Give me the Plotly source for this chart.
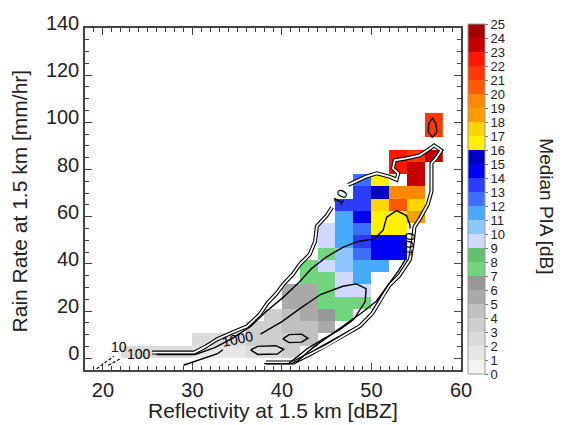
import plotly.graph_objects as go

# ---- binning of the median-PIA field ----
x_edges = [22 + 2 * i for i in range(19)]          # reflectivity bins [dBZ]
y_edges = [round(5.2 * j, 1) for j in range(21)]   # rain-rate bins [mm/hr]

N = None
# median PIA [dB], one row per rain-rate bin (bottom to top), columns 22..56 dBZ
pia_median = [
    [2.5, 2.5, 2.5, 2.5, 1.5, 1.5, 1.5, 2.5, 2.5, 3.5, N, N, N, N, N, N, N, N],
    [N, N, N, N, 2.5, 2.5, 2.5, 3.5, 3.5, 3.5, 4.5, N, N, N, N, N, N, N],
    [N, N, N, N, N, N, N, 3.5, 3.5, 4.5, 4.5, 5.5, N, N, N, N, N, N],
    [N, N, N, N, N, N, N, N, 3.5, 4.5, 5.5, 6.5, 7.5, N, N, N, N, N],
    [N, N, N, N, N, N, N, N, N, 5.5, 5.5, 7.5, 7.5, 7.5, N, N, N, N],
    [N, N, N, N, N, N, N, N, N, 5.5, 5.5, 7.5, 9.5, 9.5, N, N, N, N],
    [N, N, N, N, N, N, N, N, N, N, 7.5, 7.5, 9.5, 11.5, N, N, N, N],
    [N, N, N, N, N, N, N, N, N, N, 7.5, 9.5, 10.5, 11.5, 11.5, N, N, N],
    [N, N, N, N, N, N, N, N, N, N, N, 7.5, 10.5, 12.5, 14.5, 14.5, N, N],
    [N, N, N, N, N, N, N, N, N, N, N, 9.5, 11.5, 13.5, 14.5, 14.5, N, N],
    [N, N, N, N, N, N, N, N, N, N, N, 9.5, 11.5, 12.5, 16.5, 16.5, N, N],
    [N, N, N, N, N, N, N, N, N, N, N, N, 11.5, 14.5, 16.5, 16.5, 18.5, N],
    [N, N, N, N, N, N, N, N, N, N, N, N, 13.5, 13.5, 17.5, 20.5, 17.5, N],
    [N, N, N, N, N, N, N, N, N, N, N, N, N, 13.5, 15.5, 19.5, 19.5, N],
    [N, N, N, N, N, N, N, N, N, N, N, N, N, 12.5, 16.5, N, 23.5, N],
    [N, N, N, N, N, N, N, N, N, N, N, N, N, N, N, 22.5, 23.5, N],
    [N, N, N, N, N, N, N, N, N, N, N, N, N, N, N, 22.5, 21.5, 23.5],
    [N, N, N, N, N, N, N, N, N, N, N, N, N, N, N, N, N, N],
    [N, N, N, N, N, N, N, N, N, N, N, N, N, N, N, N, N, 21.5],
    [N, N, N, N, N, N, N, N, N, N, N, N, N, N, N, N, N, 21.5],
]

# one colour per 1 dB step, 0..25
pia_colors = [
    "#f3f3f3", "#e7e7e7", "#dbdbdb", "#cecece", "#c0c0c0",
    "#a9a9a9", "#979797", "#72d47e", "#62c06d", "#d2d9ff",
    "#8ec6ff", "#48aaff", "#3c6eff", "#2c3cff", "#0000f2",
    "#0000c0", "#fff000", "#ffd400", "#ff9c00", "#ff8800",
    "#ff5800", "#ff3800", "#ff1800", "#c40000", "#a00000",
]
cbar_ticks = list(range(0, 26))

# axis ticks
x_major = [20, 30, 40, 50, 60]
y_major = [0, 20, 40, 60, 80, 100, 120, 140]

# ---- sample-count contours (10 / 100 / 1000) ----
c10_x = [25.5, 30.2, 31.5, 32.8, 34.5, 36.1, 37.5, 38.4, 39.4, 40.2, 41.2, 42.0, 43.1, 43.7, 43.9, 45.0, 45.6,
         None,
         47.4, 49.4, 50.6, 52.0, 52.8, 53.0, 52.4, 52.6, 53.9, 55.4, 56.5, 57.0, 57.8, 57.2, 56.7, 56.7, 56.3,
         55.4, 54.8, 54.6, 54.3, 53.1, 52.0, 51.3, 50.9, 50.1, 48.7, 46.8, 45.0, 43.3, 41.3, 38.2]
c10_y = [2.4, 2.4, 5.0, 8.1, 11.0, 13.5, 18.5, 23.5, 27.5, 31.5, 35.5, 39.8, 44.0, 49.5, 56.0, 60.5, 64.0,
         None,
         73.5, 77.0, 78.4, 77.0, 75.7, 78.4, 80.5, 83.9, 84.7, 86.0, 88.8, 90.2, 88.1, 84.7, 82.6, 70.8, 65.3,
         59.1, 55.7, 48.8, 41.9, 35.0, 30.9, 26.7, 24.0, 19.0, 13.6, 9.5, 5.3, 2.0, -1.8, -1.8]
c10_dash_x = [19.3, 21.2]
c10_dash_y = [-4.5, 0.8]

c100_x = [26.0, 30.3, 32.5, 34.5, 36.5, 38.3, 40.2, 42.0, 43.3, 45.0, 46.8, 48.5, 50.3, 51.3, 51.7, 52.8, 53.9,
          54.3, 54.3, None, 53.9, 53.0, 51.7, 50.5, 49.1, 46.5, 43.5, 41.8, 41.0, 38.0]
c100_y = [1.6, 1.6, 4.5, 8.5, 13.5, 20.0, 26.0, 32.5, 38.0, 43.0, 47.0, 49.5, 50.6, 54.3, 59.8, 62.6, 60.5,
          56.5, 55.0, None, 42.5, 37.0, 30.2, 24.0, 19.8, 12.9, 4.6, -1.0, -2.3, -2.3]
c100_dash_x = [20.6, 21.9]
c100_dash_y = [-3.0, -0.3]

c1000_x = [29.0, 32.8, 33.4, None, 37.6, 40.0, 42.0, 44.3, 46.8, 48.3, 49.4, 49.3, 48.0, 46.5, 44.6, 42.8,
           41.5, 40.8]
c1000_y = [-3.0, 1.9, 3.6, None, 10.2, 15.5, 21.0, 27.0, 30.5, 31.5, 29.5, 24.0, 16.4, 12.2, 8.1, 4.0,
           0.0, -2.0]

isle1_x = [36.5, 37.3, 39.3, 40.2, 39.5, 37.3, 36.5]
isle1_y = [3.5, 5.0, 5.3, 3.8, 1.8, 1.6, 3.5]
isle2_x = [40.1, 40.8, 42.2, 42.9, 42.2, 40.8, 40.1]
isle2_y = [8.2, 10.0, 10.2, 8.5, 6.8, 6.6, 8.2]
isle3_x = [56.8, 56.35, 56.4, 56.8, 57.2, 57.3, 56.8]
isle3_y = [93.5, 96.0, 99.5, 101.7, 99.5, 96.0, 93.5]

# contour labels: text, x, y, angle
clabel_text = ["10", "100", "1000", "10", "100"]
clabel_x = [21.8, 24.0, 35.0, 46.5, 54.1]
clabel_y = [4.8, 1.8, 8.1, 68.4, 48.5]
clabel_ang = [0, 0, -12, -62, -80]

FONT = "Liberation Sans, Arial, Helvetica, sans-serif"
TXT = "#222222"
FRAME = "#444444"

scale = []
n = len(pia_colors)
for i, c in enumerate(pia_colors):
    scale.append([i / n, c])
    scale.append([(i + 1) / n, c])

fig = go.Figure()

fig.add_trace(go.Heatmap(
    x=x_edges, y=y_edges, z=pia_median,
    zmin=0, zmax=25, colorscale=scale, hoverongaps=False,
    colorbar=dict(
        x=1.0186, xanchor="left", xpad=0,
        y=0.5, yanchor="middle", ypad=0,
        lenmode="pixels", len=350, thickness=17,
        outlinewidth=1, outlinecolor="#9a9a9a",
        tickmode="array", tickvals=cbar_ticks,
        ticks="outside", ticklen=3, tickcolor="#777777",
        tickprefix="\u00a0",
        tickfont=dict(family=FONT, size=13, color=TXT),
    ),
))


def line(xs, ys, width=1.3, color="black", dash=None):
    fig.add_trace(go.Scatter(
        x=xs, y=ys, mode="lines", hoverinfo="skip", showlegend=False,
        line=dict(color=color, width=width, dash=dash),
    ))


# outer contour: hollow double stroke
line(c10_x, c10_y, width=4.0)
line(c10_x, c10_y, width=1.8, color="white")
line(c10_dash_x, c10_dash_y, width=1.2, dash="3px,2px")
line(c100_x, c100_y, width=1.4)
line(c100_dash_x, c100_dash_y, width=1.2, dash="3px,2px")
line(c1000_x, c1000_y, width=1.4)
for xs, ys in [(isle1_x, isle1_y), (isle2_x, isle2_y), (isle3_x, isle3_y)]:
    line(xs, ys, width=1.4)

for t, xx, yy, a in zip(clabel_text, clabel_x, clabel_y, clabel_ang):
    fig.add_annotation(x=xx, y=yy, xref="x", yref="y", text=t, showarrow=False,
                       textangle=a, font=dict(family=FONT, size=14, color="black"))

tick_common = dict(
    showgrid=False, zeroline=False, showline=True, linecolor=FRAME, linewidth=1.5,
    ticks="inside", ticklen=7, tickwidth=1.2, tickcolor=FRAME,
    tickfont=dict(family=FONT, size=20, color=TXT),
)
minor_x = dict(dtick=1, ticks="inside", ticklen=4, tickwidth=1, tickcolor=FRAME)
minor_y = dict(dtick=5, ticks="inside", ticklen=4, tickwidth=1, tickcolor=FRAME)

fig.update_layout(
    xaxis=dict(range=[18, 60], tickvals=x_major, minor=minor_x, ticklabelstandoff=1, **tick_common),
    yaxis=dict(range=[-5, 140], tickvals=y_major, minor=minor_y, ticklabelshift=-5, **tick_common),
    # mirrored frame with ticks on top and right
    xaxis2=dict(range=[18, 60], tickvals=x_major, minor=minor_x, overlaying="x", side="top",
                showticklabels=False, **tick_common),
    yaxis2=dict(range=[-5, 140], tickvals=y_major, minor=minor_y, overlaying="y", side="right",
                showticklabels=False, **tick_common),
)
# an empty trace carries the mirrored axes
fig.add_trace(go.Scatter(x=[None], y=[None], xaxis="x2", yaxis="y2", showlegend=False,
                         hoverinfo="skip"))

fig.add_annotation(text="Reflectivity at 1.5 km [dBZ]", xref="paper", yref="paper",
                   x=0.5, y=(370 - 412) / 351, yanchor="middle", showarrow=False,
                   font=dict(family=FONT, size=21, color=TXT))
fig.add_annotation(text="Rain Rate at 1.5 km [mm/hr]", xref="paper", yref="paper",
                   x=(19 - 85) / 376, y=(370 - 197) / 351, xanchor="center", yanchor="middle",
                   textangle=-90, showarrow=False,
                   font=dict(family=FONT, size=21, color=TXT))
fig.add_annotation(text="Median PIA [dB]", xref="paper", yref="paper",
                   x=(547 - 85) / 376, y=(370 - 202) / 351, xanchor="center", yanchor="middle",
                   textangle=90, showarrow=False,
                   font=dict(family=FONT, size=19, color=TXT))

fig.update_layout(
    width=565, height=425,
    margin=dict(l=85, r=104, t=19, b=55),
    paper_bgcolor="white", plot_bgcolor="white",
    showlegend=False,
)

fig.write_html("out.html")
